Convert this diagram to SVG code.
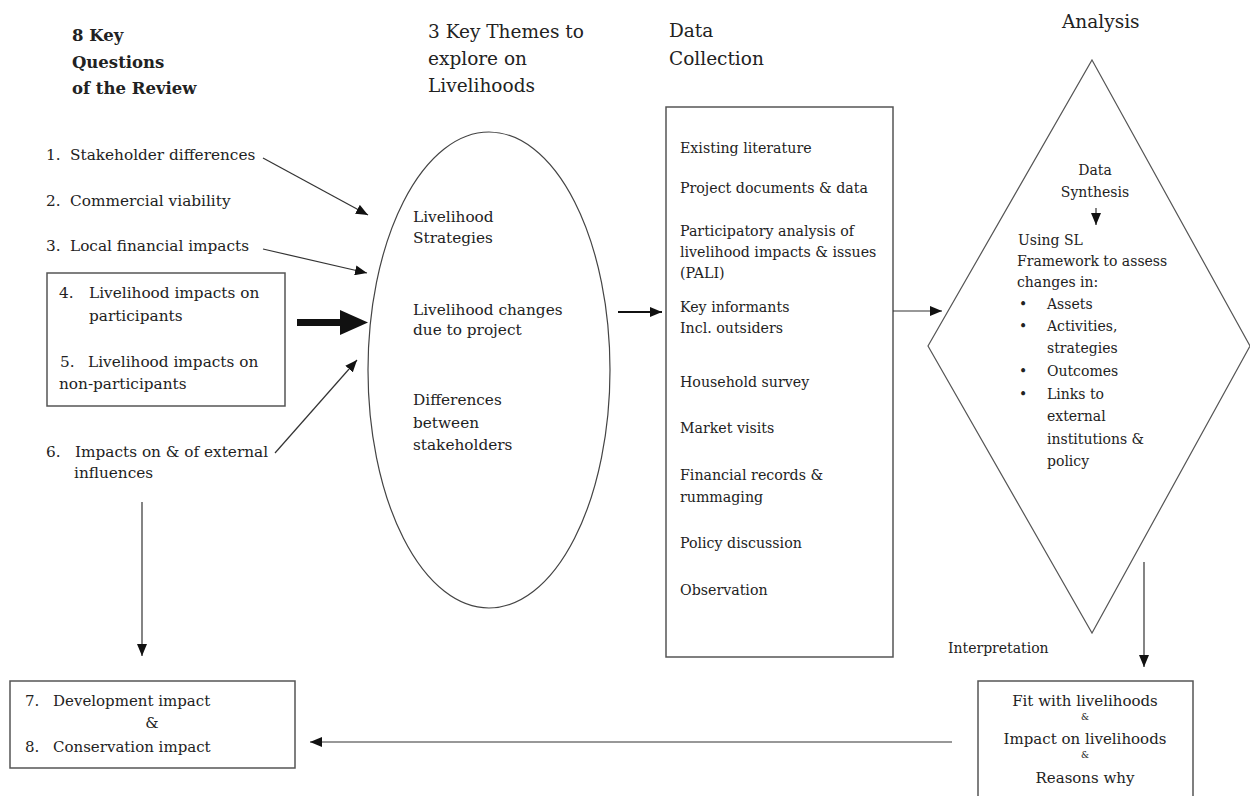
<svg xmlns="http://www.w3.org/2000/svg" width="1250" height="796" viewBox="0 0 1250 796">
<style>
text{font-family:"DejaVu Serif","Liberation Serif",serif;fill:#222}
.title{font-weight:bold;font-size:16.5px}
.h{font-size:18.5px}
.q{font-size:15.3px}
.e{font-size:15.3px}
.d{font-size:14.2px}
.s{font-size:14px}
.b{font-size:15px}
.amp{font-size:9px}
.box{fill:#fff;stroke:#555;stroke-width:1.5}
.ln{fill:none;stroke:#333;stroke-width:1.2}
</style>
<defs>
<marker id="ah" viewBox="0 0 12 10" refX="12" refY="5" markerWidth="12" markerHeight="10" markerUnits="userSpaceOnUse" orient="auto">
<path d="M0,0 L12,5 L0,10 z" fill="#111"/>
</marker>
</defs>
<rect width="1250" height="796" fill="#fff"/>

<g id="title-questions">
<text class="title" x="72" y="41">8 Key</text>
<text class="title" x="72" y="68">Questions</text>
<text class="title" x="72" y="94">of the Review</text>
</g>

<g id="q1"><text class="q" x="46" y="160">1.</text><text class="q" x="70" y="160">Stakeholder differences</text></g>
<g id="q2"><text class="q" x="46" y="206">2.</text><text class="q" x="70" y="206">Commercial viability</text></g>
<g id="q3"><text class="q" x="46" y="251">3.</text><text class="q" x="70" y="251">Local financial impacts</text></g>

<g id="q45">
<rect class="box" x="47" y="273" width="238" height="133"/>
<text class="q" x="59" y="298">4.</text><text class="q" x="89" y="298">Livelihood impacts on</text>
<text class="q" x="89" y="321">participants</text>
<text class="q" x="60" y="367">5.</text><text class="q" x="88" y="367">Livelihood impacts on</text>
<text class="q" x="59" y="389">non-participants</text>
</g>

<g id="q6">
<text class="q" x="46" y="457">6.</text><text class="q" x="75" y="457">Impacts on &amp; of external</text>
<text class="q" x="74" y="478">influences</text>
</g>

<g id="title-themes">
<text class="h" x="428" y="38">3 Key Themes to</text>
<text class="h" x="428" y="65">explore on</text>
<text class="h" x="428" y="92">Livelihoods</text>
</g>

<g id="themes">
<ellipse cx="489" cy="370" rx="121" ry="238" fill="#fff" stroke="#444" stroke-width="1.2"/>
<text class="e" x="413" y="222">Livelihood</text>
<text class="e" x="413" y="243">Strategies</text>
<text class="e" x="413" y="315">Livelihood changes</text>
<text class="e" x="413" y="335">due to project</text>
<text class="e" x="413" y="405">Differences</text>
<text class="e" x="413" y="428">between</text>
<text class="e" x="413" y="450">stakeholders</text>
</g>

<g id="title-data">
<text class="h" x="669" y="37">Data</text>
<text class="h" x="669" y="65">Collection</text>
</g>

<g id="data-collection">
<rect class="box" x="666" y="107" width="227" height="550"/>
<text class="d" x="680" y="153">Existing literature</text>
<text class="d" x="680" y="193">Project documents &amp; data</text>
<text class="d" x="680" y="236">Participatory analysis of</text>
<text class="d" x="680" y="257">livelihood impacts &amp; issues</text>
<text class="d" x="680" y="278">(PALI)</text>
<text class="d" x="680" y="312">Key informants</text>
<text class="d" x="680" y="333">Incl. outsiders</text>
<text class="d" x="680" y="387">Household survey</text>
<text class="d" x="680" y="433">Market visits</text>
<text class="d" x="680" y="480">Financial records &amp;</text>
<text class="d" x="680" y="502">rummaging</text>
<text class="d" x="680" y="548">Policy discussion</text>
<text class="d" x="680" y="595">Observation</text>
</g>

<g id="title-analysis">
<text class="h" x="1062" y="28">Analysis</text>
</g>

<g id="analysis">
<polygon points="1092,60 1250,346 1092,633 928,346" fill="#fff" stroke="#555" stroke-width="1.2"/>
<text class="s" x="1095" y="175" text-anchor="middle">Data</text>
<text class="s" x="1095" y="197" text-anchor="middle">Synthesis</text>
<text class="s" x="1018" y="245">Using SL</text>
<text class="s" x="1017" y="266">Framework to assess</text>
<text class="s" x="1017" y="287">changes in:</text>
<text class="s" x="1019" y="309">•</text><text class="s" x="1047" y="309">Assets</text>
<text class="s" x="1019" y="331">•</text><text class="s" x="1047" y="331">Activities,</text>
<text class="s" x="1047" y="353">strategies</text>
<text class="s" x="1019" y="376">•</text><text class="s" x="1047" y="376">Outcomes</text>
<text class="s" x="1019" y="399">•</text><text class="s" x="1047" y="399">Links to</text>
<text class="s" x="1047" y="421">external</text>
<text class="s" x="1047" y="444">institutions &amp;</text>
<text class="s" x="1047" y="466">policy</text>
</g>

<g id="interpretation-label">
<text class="s" x="948" y="653">Interpretation</text>
</g>

<g id="interpretation">
<rect class="box" x="978" y="681" width="215" height="125"/>
<text class="b" x="1085" y="706" text-anchor="middle">Fit with livelihoods</text>
<text class="amp" x="1085" y="720" text-anchor="middle">&amp;</text>
<text class="b" x="1085" y="744" text-anchor="middle">Impact on livelihoods</text>
<text class="amp" x="1085" y="758" text-anchor="middle">&amp;</text>
<text class="b" x="1085" y="783" text-anchor="middle">Reasons why</text>
</g>

<g id="q78">
<rect class="box" x="10" y="681" width="285" height="87"/>
<text class="b" x="25" y="706">7.</text><text class="b" x="53" y="706">Development impact</text>
<text class="b" x="152" y="728" text-anchor="middle">&amp;</text>
<text class="b" x="25" y="752">8.</text><text class="b" x="53" y="752">Conservation impact</text>
</g>

<g id="connectors">
<line class="ln" x1="263" y1="158" x2="368" y2="215" marker-end="url(#ah)"/>
<line class="ln" x1="263" y1="249" x2="367" y2="273" marker-end="url(#ah)"/>
<line x1="297" y1="322.5" x2="342" y2="322.5" stroke="#111" stroke-width="7"/>
<polygon points="340,310 368,322.5 340,335" fill="#111"/>
<line class="ln" x1="275" y1="453" x2="357" y2="360" marker-end="url(#ah)"/>
<line class="ln" x1="142" y1="502" x2="142" y2="656" marker-end="url(#ah)"/>
<line x1="618" y1="312" x2="662" y2="312" stroke="#111" stroke-width="2.2" marker-end="url(#ah)"/>
<line class="ln" x1="893" y1="311" x2="942" y2="311" marker-end="url(#ah)"/>
<line class="ln" x1="1096" y1="208" x2="1096" y2="225" marker-end="url(#ah)"/>
<line class="ln" x1="1144" y1="562" x2="1144" y2="667" marker-end="url(#ah)"/>
<line class="ln" x1="952" y1="742" x2="310" y2="742" marker-end="url(#ah)"/>
</g>
</svg>
